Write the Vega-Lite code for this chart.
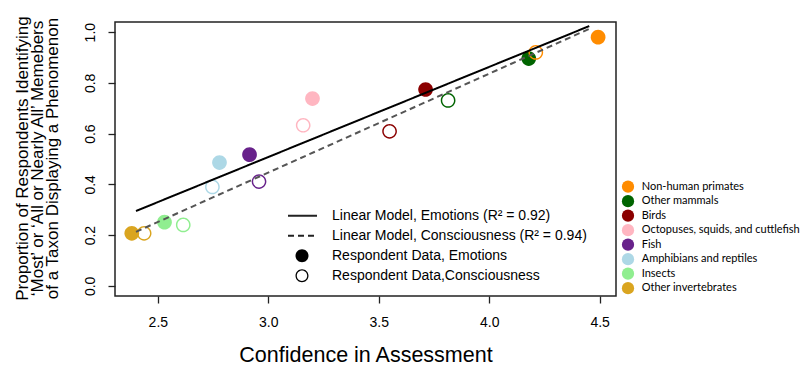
{
  "$schema": "https://vega.github.io/schema/vega-lite/v6.json",
  "width": 501,
  "height": 274,
  "autosize": {"type": "none"},
  "padding": {"left": 115, "top": 22, "right": 184, "bottom": 89},
  "background": "white",
  "config": {
    "view": {"stroke": "#222", "strokeWidth": 1.5},
    "font": "Liberation Sans",
    "axis": {
      "grid": false,
      "domain": false,
      "tickColor": "#222",
      "tickWidth": 1.3,
      "tickSize": 7,
      "labelFont": "Liberation Sans",
      "labelFontSize": 14,
      "labelColor": "black",
      "titleFont": "Liberation Sans",
      "titleColor": "black",
      "titleFontWeight": "normal"
    }
  },
  "datasets": {
    "points": [
      {"taxon": "Non-human primates", "measure": "Emotions", "confidence": 4.493, "proportion": 0.980},
      {"taxon": "Other mammals", "measure": "Emotions", "confidence": 4.179, "proportion": 0.896},
      {"taxon": "Birds", "measure": "Emotions", "confidence": 3.712, "proportion": 0.774},
      {"taxon": "Octopuses, squids, and cuttlefish", "measure": "Emotions", "confidence": 3.200, "proportion": 0.738},
      {"taxon": "Fish", "measure": "Emotions", "confidence": 2.915, "proportion": 0.517},
      {"taxon": "Amphibians and reptiles", "measure": "Emotions", "confidence": 2.779, "proportion": 0.486},
      {"taxon": "Insects", "measure": "Emotions", "confidence": 2.530, "proportion": 0.251},
      {"taxon": "Other invertebrates", "measure": "Emotions", "confidence": 2.382, "proportion": 0.207},
      {"taxon": "Non-human primates", "measure": "Consciousness", "confidence": 4.211, "proportion": 0.920},
      {"taxon": "Other mammals", "measure": "Consciousness", "confidence": 3.814, "proportion": 0.731},
      {"taxon": "Birds", "measure": "Consciousness", "confidence": 3.549, "proportion": 0.609},
      {"taxon": "Octopuses, squids, and cuttlefish", "measure": "Consciousness", "confidence": 3.158, "proportion": 0.633},
      {"taxon": "Fish", "measure": "Consciousness", "confidence": 2.958, "proportion": 0.411},
      {"taxon": "Amphibians and reptiles", "measure": "Consciousness", "confidence": 2.747, "proportion": 0.390},
      {"taxon": "Insects", "measure": "Consciousness", "confidence": 2.615, "proportion": 0.240},
      {"taxon": "Other invertebrates", "measure": "Consciousness", "confidence": 2.438, "proportion": 0.207}
    ],
    "lines": [
      {"model": "Linear Model, Emotions (R² = 0.92)", "confidence": 2.401, "proportion": 0.295},
      {"model": "Linear Model, Emotions (R² = 0.92)", "confidence": 4.453, "proportion": 1.024},
      {"model": "Linear Model, Consciousness (R² = 0.94)", "confidence": 2.401, "proportion": 0.213},
      {"model": "Linear Model, Consciousness (R² = 0.94)", "confidence": 4.453, "proportion": 1.013}
    ]
  },
  "layer": [
    {
      "data": {"name": "points"},
      "transform": [{"filter": "datum.measure == 'Emotions'"}],
      "mark": {"type": "point", "filled": true, "size": 216, "opacity": 1, "strokeWidth": 0},
      "encoding": {
        "x": {
          "field": "confidence", "type": "quantitative",
          "scale": {"domain": [2.306, 4.574], "nice": false, "zero": false},
          "axis": {
            "values": [2.5, 3.0, 3.5, 4.0, 4.5], "format": ".1f",
            "title": "Confidence in Assessment",
            "titleFontSize": 21.5,
            "labelPadding": 12.5,
            "titleBaseline": "alphabetic",
            "titleY": 65
          }
        },
        "y": {
          "field": "proportion", "type": "quantitative",
          "scale": {"domain": [-0.04, 1.04], "nice": false, "zero": false},
          "axis": {
            "values": [0, 0.2, 0.4, 0.6, 0.8, 1.0], "format": ".1f",
            "labelAngle": 270,
            "labelAlign": "center",
            "labelBaseline": "bottom",
            "labelPadding": 11,
            "title": ["Proportion of Respondents Identifying", "‘Most’ or ‘All or Nearly All’ Memebers", "of a Taxon Displaying a Phenomenon"],
            "titleFontSize": 17,
            "titleLineHeight": 15,
            "titleAngle": 270,
            "titleBaseline": "middle",
            "titleAlign": "center",
            "titleX": -93,
            "titleY": 136
          }
        },
        "color": {
          "field": "taxon", "type": "nominal",
          "scale": {
            "domain": ["Non-human primates", "Other mammals", "Birds", "Octopuses, squids, and cuttlefish", "Fish", "Amphibians and reptiles", "Insects", "Other invertebrates"],
            "range": ["#FF8C00", "#006400", "#8B0000", "#FFB6C1", "#68228B", "#ADD8E6", "#90EE90", "#DAA520"]
          },
          "legend": {
            "title": null,
            "orient": "none",
            "legendX": 506.5,
            "legendY": 158.2,
            "padding": 0,
            "symbolType": "circle",
            "symbolSize": 150,
            "symbolStrokeWidth": 0,
            "symbolOpacity": 1,
            "rowPadding": 1.5,
            "labelOffset": 7.2,
            "labelFont": "Lato",
            "labelFontSize": 11,
            "labelColor": "black",
            "labelLimit": 400
          }
        },
        "shape": {
          "field": "measure", "type": "nominal",
          "scale": {
            "domain": ["Emotions", "Consciousness"],
            "range": [
              "M-1,0A1,1 0 1,0 1,0A1,1 0 1,0 -1,0Z",
              "M-1,0A1,1 0 1,0 1,0A1,1 0 1,0 -1,0ZM-0.8,0A0.8,0.8 0 1,1 0.8,0A0.8,0.8 0 1,1 -0.8,0Z"
            ]
          },
          "legend": {
            "title": null,
            "orient": "none",
            "legendX": 180,
            "legendY": 226.7,
            "padding": 0,
            "symbolSize": 169,
            "symbolFillColor": "black",
            "symbolStrokeWidth": 0,
            "symbolOpacity": 1,
            "rowPadding": 6,
            "labelOffset": 23,
            "labelFont": "Liberation Sans",
            "labelFontSize": 14,
            "labelColor": "black",
            "labelLimit": 400,
            "labelExpr": "datum.label == 'Emotions' ? 'Respondent Data, Emotions' : 'Respondent Data,Consciousness'"
          }
        }
      }
    },
    {
      "data": {"name": "points"},
      "transform": [{"filter": "datum.measure == 'Consciousness'"}],
      "mark": {"type": "point", "filled": true, "size": 216, "opacity": 1, "strokeWidth": 0},
      "encoding": {
        "x": {"field": "confidence", "type": "quantitative"},
        "y": {"field": "proportion", "type": "quantitative"},
        "color": {"field": "taxon", "type": "nominal"},
        "shape": {"field": "measure", "type": "nominal"}
      }
    },
    {
      "data": {"name": "lines"},
      "mark": {"type": "line", "strokeWidth": 2},
      "encoding": {
        "x": {"field": "confidence", "type": "quantitative"},
        "y": {"field": "proportion", "type": "quantitative"},
        "detail": {"field": "model"},
        "color": {
          "condition": {"test": "indexof(datum.model, 'Consciousness') >= 0", "value": "#555555"},
          "value": "black"
        },
        "strokeDash": {
          "field": "model", "type": "nominal",
          "scale": {
            "domain": ["Linear Model, Emotions (R² = 0.92)", "Linear Model, Consciousness (R² = 0.94)"],
            "range": [[1, 0], [6, 4]]
          },
          "legend": {
            "title": null,
            "orient": "none",
            "legendX": 172,
            "legendY": 185.7,
            "padding": 0,
            "symbolType": "stroke",
            "symbolSize": 841,
            "symbolStrokeWidth": 2,
            "symbolStrokeColor": "#222222",
            "clipHeight": 16,
            "rowPadding": 4,
            "labelOffset": 14,
            "labelFont": "Liberation Sans",
            "labelFontSize": 14,
            "labelColor": "black",
            "labelLimit": 400
          }
        }
      }
    }
  ]
}
